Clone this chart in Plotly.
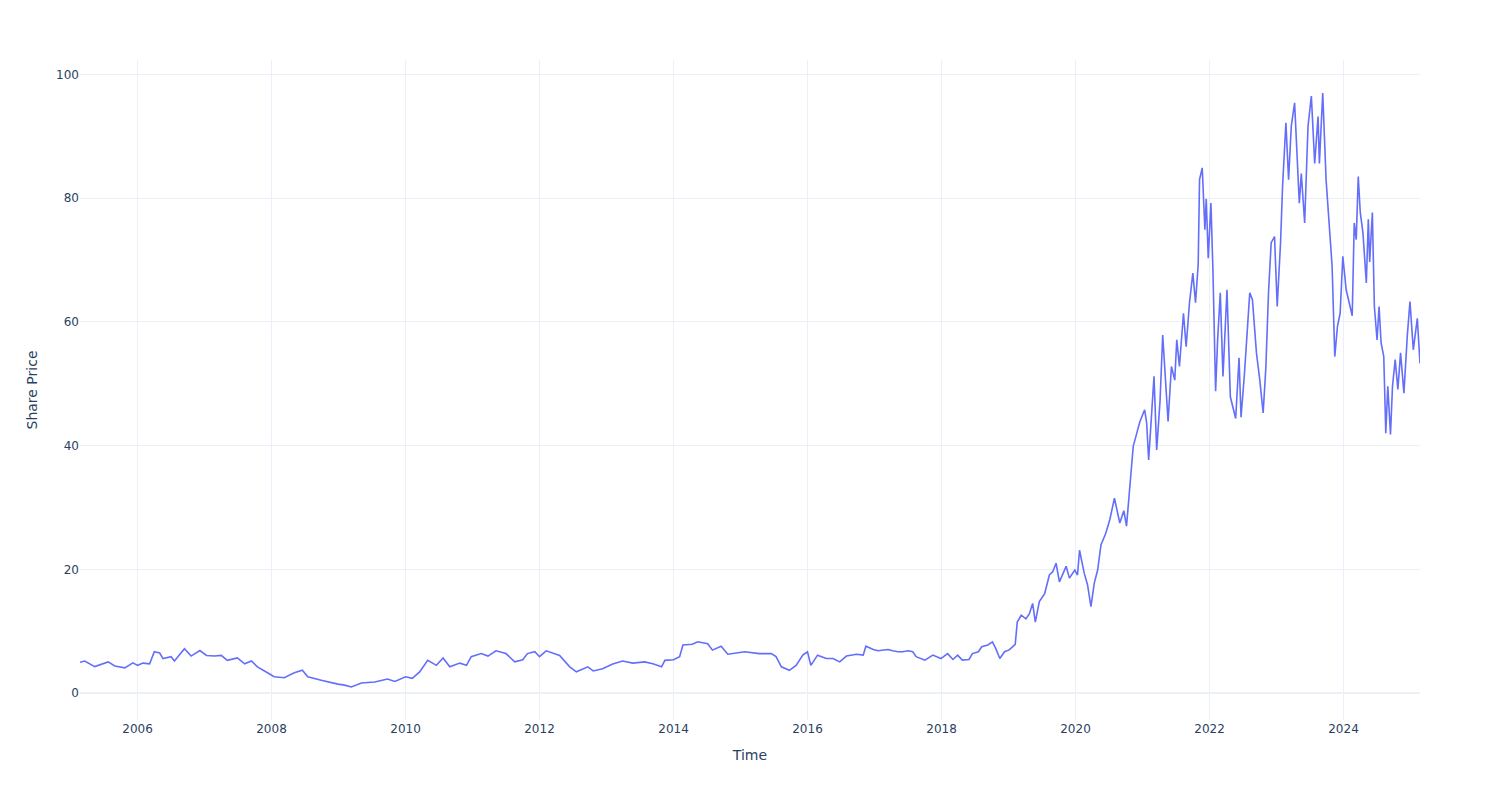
import pandas as pd
import plotly.graph_objects as go

year_frac = [
    2005.14, 2005.21, 2005.36, 2005.56, 2005.66, 2005.81, 2005.93, 2006.00, 2006.08, 2006.18,
    2006.25, 2006.33, 2006.38, 2006.50, 2006.55, 2006.70, 2006.80, 2006.93, 2007.03, 2007.15,
    2007.25, 2007.34, 2007.49, 2007.60, 2007.70, 2007.79, 2007.94, 2008.04, 2008.19, 2008.34,
    2008.46, 2008.54, 2008.74, 2008.84, 2008.99, 2009.09, 2009.19, 2009.34, 2009.54, 2009.73,
    2009.84, 2010.00,
    2010.10, 2010.21, 2010.33, 2010.46, 2010.56, 2010.66, 2010.81, 2010.91, 2010.98, 2011.13,
    2011.23, 2011.35, 2011.50, 2011.63, 2011.75, 2011.82, 2011.93, 2012.00, 2012.10, 2012.30,
    2012.45, 2012.55, 2012.72, 2012.80, 2012.94, 2013.09, 2013.24, 2013.39, 2013.57, 2013.69,
    2013.82, 2013.87, 2014.00, 2014.09, 2014.14, 2014.28, 2014.36, 2014.51, 2014.58, 2014.71,
    2014.81, 2014.94, 2015.06, 2015.28, 2015.46, 2015.53, 2015.61, 2015.73, 2015.83, 2015.93,
    2016.00, 2016.05, 2016.15, 2016.28, 2016.38, 2016.48, 2016.58, 2016.73, 2016.83, 2016.87,
    2016.98, 2017.05, 2017.12, 2017.20, 2017.27, 2017.35, 2017.42, 2017.50, 2017.57, 2017.62,
    2017.75, 2017.87, 2017.99, 2018.09,
    2018.17, 2018.24, 2018.31, 2018.41, 2018.46, 2018.55, 2018.60, 2018.69, 2018.76, 2018.81,
    2018.87, 2018.94, 2019.01, 2019.10, 2019.13, 2019.19, 2019.26, 2019.31, 2019.36, 2019.40,
    2019.46, 2019.54, 2019.61, 2019.66, 2019.71, 2019.76, 2019.86, 2019.91, 2019.99, 2020.03,
    2020.06, 2020.13, 2020.18, 2020.23, 2020.28, 2020.33, 2020.38, 2020.45, 2020.51, 2020.58,
    2020.66, 2020.72, 2020.76, 2020.81, 2020.86, 2020.90, 2020.96, 2021.03, 2021.06, 2021.09,
    2021.15, 2021.17, 2021.21, 2021.26, 2021.30, 2021.38, 2021.43, 2021.48, 2021.51, 2021.55,
    2021.61, 2021.65, 2021.70, 2021.75, 2021.79, 2021.83, 2021.85, 2021.89, 2021.93, 2021.95,
    2021.98, 2022.02, 2022.05, 2022.09, 2022.12, 2022.16, 2022.20, 2022.26, 2022.31, 2022.39,
    2022.44, 2022.47, 2022.52, 2022.60, 2022.64, 2022.70, 2022.75, 2022.80, 2022.84, 2022.88,
    2022.92, 2022.97, 2023.01, 2023.06, 2023.09, 2023.14, 2023.18, 2023.22, 2023.27, 2023.30,
    2023.34, 2023.37, 2023.42, 2023.47, 2023.52, 2023.57, 2023.62, 2023.64, 2023.69, 2023.74,
    2023.79, 2023.83, 2023.87, 2023.91, 2023.95, 2023.99, 2024.04, 2024.10, 2024.13, 2024.16,
    2024.19, 2024.22, 2024.25, 2024.29, 2024.34, 2024.37, 2024.39, 2024.43, 2024.46, 2024.50,
    2024.53, 2024.56, 2024.60, 2024.63, 2024.66, 2024.70, 2024.73, 2024.77, 2024.81, 2024.85,
    2024.90, 2024.95, 2024.99, 2025.04, 2025.10, 2025.14,
]

share_price = [
    5.0, 5.2, 4.3, 5.06, 4.4, 4.1, 4.9, 4.5, 4.86, 4.75,
    6.7, 6.5, 5.6, 5.9, 5.2, 7.2, 6.0, 6.9, 6.1, 6.0,
    6.1, 5.3, 5.7, 4.75, 5.2, 4.26, 3.3, 2.65, 2.5, 3.3,
    3.7, 2.65, 2.1, 1.83, 1.46, 1.3, 1.0, 1.65, 1.8, 2.3,
    1.9, 2.65,
    2.4, 3.45, 5.3, 4.5, 5.7, 4.26, 4.86, 4.5, 5.9, 6.4,
    6.0, 6.85, 6.4, 5.06, 5.4, 6.4, 6.7, 5.9, 6.85, 6.1,
    4.26, 3.45, 4.26, 3.6, 3.96, 4.7, 5.2, 4.86, 5.06, 4.75,
    4.26, 5.3, 5.4, 5.9, 7.8, 7.9, 8.3, 8.0, 6.96, 7.6,
    6.3, 6.5, 6.7, 6.4, 6.4, 5.9, 4.26, 3.7, 4.5, 6.15,
    6.7, 4.5, 6.15, 5.6, 5.6, 5.06, 6.0, 6.3, 6.15, 7.6,
    7.05, 6.85, 6.96, 7.05, 6.85, 6.7, 6.7, 6.85, 6.7, 5.9,
    5.34, 6.15, 5.6, 6.4,
    5.45, 6.15, 5.34, 5.45, 6.4, 6.7, 7.5, 7.8, 8.3, 7.2,
    5.6, 6.7, 7.0, 7.9, 11.5, 12.6, 12.0, 12.8, 14.5, 11.5,
    14.8, 16.1, 19.1, 19.6, 21.0, 18.0, 20.5, 18.6, 19.9, 19.1,
    23.1, 19.4, 17.5, 14.0, 17.8, 19.9, 24.0, 25.8, 28.0, 31.5,
    27.5, 29.5, 27.0, 33.4, 39.9, 41.5, 43.9, 45.8, 43.7, 37.7,
    48.5, 51.2, 39.3, 47.2, 57.9, 43.9, 52.8, 50.6, 57.1, 52.8,
    61.4, 56.0, 63.1, 67.9, 63.1, 69.3, 83.0, 84.9, 74.9, 79.9,
    70.3, 79.2, 68.4, 48.8, 57.1, 64.7, 51.2, 65.2, 47.9, 44.4,
    54.2, 44.6, 51.5, 64.7, 63.6, 55.0, 50.6, 45.3, 52.5, 64.7,
    72.8, 73.8, 62.5, 72.8, 81.9, 92.2, 83.0, 91.6, 95.4, 89.0,
    79.2, 84.0, 76.0, 91.6, 96.5, 85.6, 93.2, 85.6, 97.0, 83.0,
    76.0, 69.0, 54.4, 59.3, 61.4, 70.6, 65.2, 62.0, 61.0, 76.0,
    73.3, 83.5, 77.7, 74.4, 66.3, 76.6, 69.7, 77.7, 62.5, 57.1,
    62.5, 56.6, 54.4, 42.0, 49.6, 41.8, 49.6, 53.9, 49.1, 55.0,
    48.5, 57.7, 63.3, 55.5, 60.6, 53.3,
]


def frac_to_date(y):
    base = pd.Timestamp(year=int(y), month=1, day=1)
    nxt = pd.Timestamp(year=int(y) + 1, month=1, day=1)
    return base + (nxt - base) * (y - int(y))


dates = [frac_to_date(y) for y in year_frac]

fig = go.Figure(
    go.Scatter(
        x=dates,
        y=share_price,
        mode="lines",
        line=dict(color="#636EFA", width=1.6),
        name="Share Price",
    )
)

fig.update_layout(
    template="plotly_white",
    width=1500,
    height=800,
    font=dict(family="DejaVu Sans"),
    margin=dict(l=80, r=80, t=60, b=80),
    xaxis=dict(title=dict(text="Time"), dtick="M24", tick0="2006-01-01"),
    yaxis=dict(title=dict(text="Share Price")),
    showlegend=False,
)

fig.write_html("out.html")
